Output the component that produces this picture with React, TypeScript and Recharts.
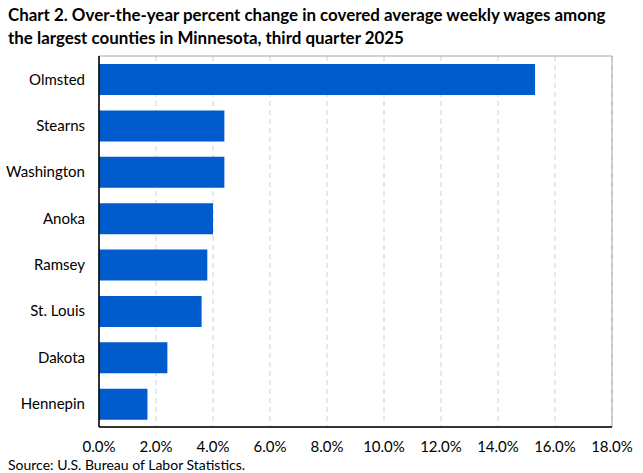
import React from "react";
import { BarChart, Bar, XAxis, YAxis, CartesianGrid, ReferenceArea } from "recharts";

const counties = ["Olmsted", "Stearns", "Washington", "Anoka", "Ramsey", "St. Louis", "Dakota", "Hennepin"];
const changes = [15.3, 4.4, 4.4, 4.0, 3.8, 3.6, 2.4, 1.7];
const xTicks = [0, 2, 4, 6, 8, 10, 12, 14, 16, 18];

const data = counties.map((name, i) => ({ name, value: changes[i] }));

const FONT = "Lato, 'Open Sans', sans-serif";

export default function App() {
  return (
    <div style={{ position: "absolute", left: 0, top: 0, width: 643, height: 473, background: "#fff", fontFamily: FONT }}>
      <div style={{ position: "absolute", left: 8, top: 3, fontWeight: 700, fontSize: 16.9, lineHeight: "23px", color: "#000", width: 635, whiteSpace: "nowrap" }}>
        Chart 2. Over-the-year percent change in covered average weekly wages among
        <br />
        the largest counties in Minnesota, third quarter 2025
      </div>
      <div style={{ position: "absolute", left: 8, top: 456, fontSize: 14, color: "#000" }}>
        Source: U.S. Bureau of Labor Statistics.
      </div>
      <div style={{ position: "absolute", left: 0, top: 0 }}>
        <BarChart
          width={643}
          height={473}
          data={data}
          layout="vertical"
          margin={{ top: 56, right: 31, bottom: 0, left: 0 }}
        >
          <CartesianGrid horizontal={false} vertical={true} stroke="#d0d0d0" strokeDasharray="5 4" />
          <ReferenceArea x1={0} x2={18} fill="none" stroke="#a6a6a6" strokeWidth={1} ifOverflow="extendDomain" />
          <XAxis
            type="number"
            dataKey="value"
            domain={[0, 18]}
            ticks={xTicks}
            interval={0}
            height={46}
            tickLine={false}
            tickSize={0}
            tickMargin={14}
            axisLine={{ stroke: "#000", strokeWidth: 1.5 }}
            tick={{ fill: "#000", fontSize: 15, fontFamily: FONT }}
            tickFormatter={(v: number) => v.toFixed(1) + "%"}
          />
          <YAxis
            type="category"
            dataKey="name"
            width={99}
            tickLine={false}
            tickSize={0}
            tickMargin={14}
            axisLine={{ stroke: "#000", strokeWidth: 1.5 }}
            tick={{ fill: "#000", fontSize: 15, fontFamily: FONT }}
          />
          <Bar dataKey="value" fill="#005BCC" barSize={31} isAnimationActive={false} />
        </BarChart>
      </div>
    </div>
  );
}
